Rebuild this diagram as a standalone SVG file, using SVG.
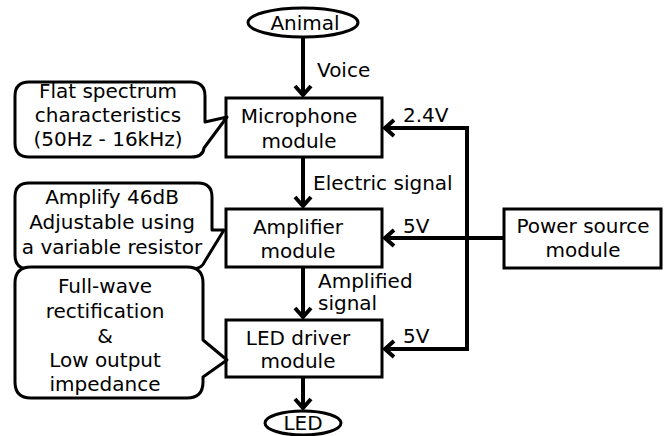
<svg xmlns="http://www.w3.org/2000/svg" width="668" height="436" viewBox="0 0 668 436">
  <style>
    text { font-family: "DejaVu Sans", Verdana, sans-serif; font-size: 20px; fill: #000; }
    .c { text-anchor: middle; }
    .box { fill: #fff; stroke: #000; stroke-width: 3; }
    .callout { fill: #fff; stroke: #000; stroke-width: 3; stroke-linejoin: round; }
    .wire { fill: none; stroke: #000; stroke-width: 4; }
  </style>
  <defs>
    <marker id="arrow" markerUnits="userSpaceOnUse" markerWidth="24" markerHeight="24" viewBox="-12 -12 24 24" refX="0" refY="0" orient="auto">
      <path d="M -9,-8 L 0,0 L -9,8" fill="none" stroke="#000" stroke-width="4" stroke-linejoin="miter"/>
    </marker>
  </defs>
  <rect width="668" height="436" fill="#fff"/>

  <g id="connectors">
    <line class="wire" x1="303" y1="37" x2="303" y2="95" marker-end="url(#arrow)"/>
    <line class="wire" x1="303" y1="157" x2="303" y2="206" marker-end="url(#arrow)"/>
    <line class="wire" x1="303" y1="267" x2="303" y2="317" marker-end="url(#arrow)"/>
    <line class="wire" x1="303" y1="377" x2="303" y2="408" marker-end="url(#arrow)"/>
    <path class="wire" d="M 467,128 V 349"/>
    <line class="wire" x1="469" y1="128" x2="385" y2="128" marker-end="url(#arrow)"/>
    <line class="wire" x1="504" y1="238" x2="385" y2="238" marker-end="url(#arrow)"/>
    <line class="wire" x1="469" y1="349" x2="385" y2="349" marker-end="url(#arrow)"/>
    <text x="317" y="77">Voice</text>
    <text x="313" y="190">Electric signal</text>
    <text x="318" y="288">Amplified</text>
    <text x="318" y="310">signal</text>
    <text x="403" y="122">2.4V</text>
    <text x="403" y="233">5V</text>
    <text x="403" y="343">5V</text>
  </g>

  <g id="animal">
    <ellipse cx="303" cy="22.5" rx="55" ry="14.5" fill="#fff" stroke="#000" stroke-width="3"/>
    <text class="c" x="305" y="30">Animal</text>
  </g>

  <g id="microphone">
    <rect class="box" x="226" y="98" width="156" height="59"/>
    <text class="c" x="299" y="123">Microphone</text>
    <text class="c" x="299" y="148">module</text>
  </g>

  <g id="amplifier">
    <rect class="box" x="226" y="209" width="156" height="58"/>
    <text class="c" x="298" y="234">Amplifier</text>
    <text class="c" x="298" y="258">module</text>
  </g>

  <g id="led-driver">
    <rect class="box" x="226" y="320" width="156" height="57"/>
    <text class="c" x="298" y="345">LED driver</text>
    <text class="c" x="298" y="368">module</text>
  </g>

  <g id="led">
    <ellipse cx="303" cy="423" rx="38" ry="12" fill="#fff" stroke="#000" stroke-width="3"/>
    <text class="c" x="303" y="430">LED</text>
  </g>

  <g id="power-source">
    <rect class="box" x="504" y="209" width="157" height="59"/>
    <text class="c" x="583" y="233">Power source</text>
    <text class="c" x="583" y="257">module</text>
  </g>

  <g id="callout-flat">
    <path class="callout" d="M 29,82 H 191 Q 205,82 205,96 V 122 L 227,117 L 204,148 Q 203,157 191,157 H 29 Q 15,157 15,143 V 96 Q 15,82 29,82 Z"/>
    <text class="c" x="108" y="98">Flat spectrum</text>
    <text class="c" x="108" y="122">characteristics</text>
    <text class="c" x="108" y="146">(50Hz - 16kHz)</text>
  </g>

  <g id="callout-amplify">
    <path class="callout" d="M 29,183 H 198 Q 212,183 212,197 V 230 H 224 L 205,261 Q 202,269 192,269 H 29 Q 15,269 15,255 V 197 Q 15,183 29,183 Z"/>
    <text class="c" x="112" y="204">Amplify 46dB</text>
    <text class="c" x="112" y="229">Adjustable using</text>
    <text class="c" x="112" y="254">a variable resistor</text>
  </g>

  <g id="callout-rectification">
    <path class="callout" d="M 31,267 H 187 Q 203,267 203,283 V 340 L 227,360 L 203,377 V 382 Q 203,398 187,398 H 31 Q 15,398 15,382 V 283 Q 15,267 31,267 Z"/>
    <text class="c" x="105" y="293">Full-wave</text>
    <text class="c" x="105" y="318">rectification</text>
    <text class="c" x="105" y="343">&amp;</text>
    <text class="c" x="105" y="367">Low output</text>
    <text class="c" x="105" y="391">impedance</text>
  </g>
</svg>
